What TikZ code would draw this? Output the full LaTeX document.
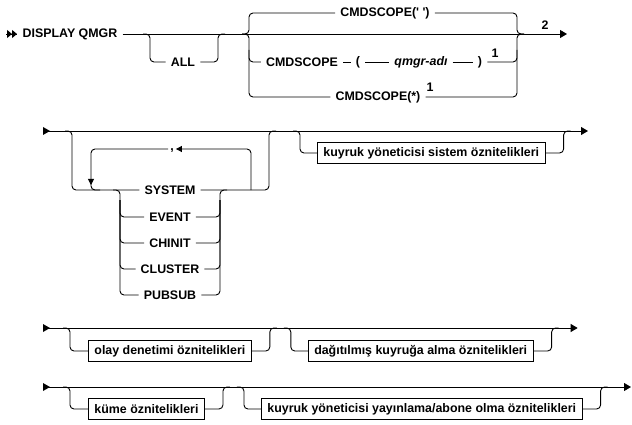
\documentclass[tikz,border=0pt]{standalone}
\usepackage{fontspec}
\setmainfont{Liberation Sans}
\usetikzlibrary{arrows.meta,positioning}

\tikzset{
  rail/.style={line width=0.9pt, rounded corners=4pt},
  kw/.style={font=\bfseries, inner xsep=5pt, inner ysep=2pt},
  var/.style={font=\bfseries\itshape, inner xsep=5pt, inner ysep=2pt},
  fn/.style={font=\bfseries, inner sep=1pt},
  grp/.style={draw, line width=0.9pt, font=\bfseries, inner xsep=6pt, minimum height=21pt},
  endtip/.style={-{Triangle[length=7pt,width=8pt]}},
}
% start marker of a rail
\newcommand{\startmark}[1]{\fill (#1) ++(0,-4) -- ++(7,4) -- ++(-7,4) -- cycle;}

\begin{document}
\fontsize{12.4}{15}\selectfont
\begin{tikzpicture}[x=1pt, y=-1pt]
\useasboundingbox (0,0) rectangle (632,425);

% satir 1
\node[kw] (dq) at (70,34) {DISPLAY QMGR};
\coordinate (s1) at (6,34);
\coordinate (e1) at (567,34);
\draw[rail, -{Triangle[length=5pt,width=8pt] Triangle[length=5pt,width=8pt]}] (s1) -- (17,34);
\draw[rail] (16,34) -- (dq.west);
\draw[rail] (dq.east) -- (517,34);
\draw[rail, endtip] (517,34) -- (e1);
\node[fn] (f2) at (545,25) {2};

\node[kw] (all) at (183,62) {ALL};
\draw[rail] (143,34) -- (150,34) -- (150,62) -- (all.west);
\draw[rail] (all.east) -- (218,62) -- (218,34) -- (225,34);

\node[kw] (c1) at (385,13) {CMDSCOPE(\textquotesingle\ \textquotesingle)};
\node[kw] (c2) at (302,62) {CMDSCOPE};
\node[kw] (lp) at (358,62) {(};
\node[var] (qm) at (421,62) {qmgr-adı};
\node[kw] (rp) at (480,62) {)};
\node[kw] (c3) at (378,97) {CMDSCOPE(*)};
\node[fn] (f1a) at (495,53) {1};
\node[fn] (f1b) at (430,87) {1};

\draw[rail] (242,34) -- (249,34) -- (249,13) -- (c1.west);
\draw[rail] (242,34) -- (249,34) -- (249,97) -- (c3.west);
\draw[rail] (249,50) |- (c2.west);
\draw[rail] (c2.east) -- (lp.west) (lp.east) -- (qm.west) (qm.east) -- (rp.west);
\draw[rail] (c1.east) -- (517,13) -- (517,34) -- (524,34);
\draw[rail] (c3.east) -- (517,97) -- (517,34) -- (524,34);
\draw[rail] (rp.east) -| (517,50);

% satir 2
\coordinate (s2) at (43,131);
\coordinate (e2) at (588,131);
\startmark{s2}
\draw[rail, endtip] (s2) -- (e2);

\node[kw] (sys) at (170,190) {SYSTEM};
\foreach \n/\t/\y in {ev/EVENT/217, ch/CHINIT/243, cl/CLUSTER/269, ps/PUBSUB/295}{
  \node[kw] (\n) at (170,\y) {\t};
}
\node[kw, inner xsep=2pt, anchor=base] (cm) at (172,151) {,};

\draw[rail] (65,131) -- (72,131) -- (72,190) -- (sys.west);
\draw[rail] (sys.east) -- (269,190) -- (269,131) -- (276,131);
\draw[rail, -{Triangle[length=6pt,width=6pt]}] (251,190) -- (251,149) -- (cm.east |- 0,149);
\draw[rail, -{Triangle[length=6pt,width=6pt]}] (cm.west |- 0,149) -- (91,149) -- (91,185);
\draw[rail] (91,180) -- (91,190) -- (100,190);

\draw[rail] (113,190) -- (120,190) -- (120,295) -- (ps.west);
\draw[rail] (ps.east) -- (220,295) -- (220,190) -- (227,190);
\foreach \n in {ev,ch,cl}{
  \draw[rail] (120,200) |- (\n.west);
  \draw[rail] (\n.east) -| (220,200);
}

\node[grp, anchor=west] (ksys) at (317,153) {kuyruk yöneticisi sistem öznitelikleri};
\draw[rail] (293,131) -- (300,131) -- (300,153) -- (ksys.west);
\draw[rail] (ksys.east) -- ++(18,0) -- ++(0,-22) -- ++(7,0);

% satir 3
\node[grp, anchor=west] (olay) at (88,351) {olay denetimi öznitelikleri};
\node[grp, right=56pt of olay] (dag) {dağıtılmış kuyruğa alma öznitelikleri};
\coordinate (s3) at (43,328);
\coordinate (e3) at ([xshift=44pt]dag.east |- 0,328);
\startmark{s3}
\draw[rail, endtip] (s3) -- (e3);
\draw[rail] (63,328) -- (70,328) -- (70,351) -- (olay.west);
\draw[rail] (olay.east) -- ++(18,0) -- ++(0,-23) -- ++(7,0);
\draw[rail] ([xshift=-24pt]dag.west |- 0,328) -- ++(7,0) |- (dag.west);
\draw[rail] (dag.east) -- ++(18,0) -- ++(0,-23) -- ++(7,0);

% satir 4
\node[grp, anchor=west] (kume) at (88,409) {küme öznitelikleri};
\node[grp, right=56pt of kume] (kyay) {kuyruk yöneticisi yayınlama/abone olma öznitelikleri};
\coordinate (s4) at (43,387);
\coordinate (e4) at (631,387);
\startmark{s4}
\draw[rail, endtip] (s4) -- (e4);
\draw[rail] (63,387) -- (70,387) -- (70,409) -- (kume.west);
\draw[rail] (kume.east) -- ++(18,0) -- ++(0,-22) -- ++(7,0);
\draw[rail] ([xshift=-24pt]kyay.west |- 0,387) -- ++(7,0) |- (kyay.west);
\draw[rail] (kyay.east) -- ++(18,0) -- ++(0,-22) -- ++(7,0);

\end{tikzpicture}
\end{document}
